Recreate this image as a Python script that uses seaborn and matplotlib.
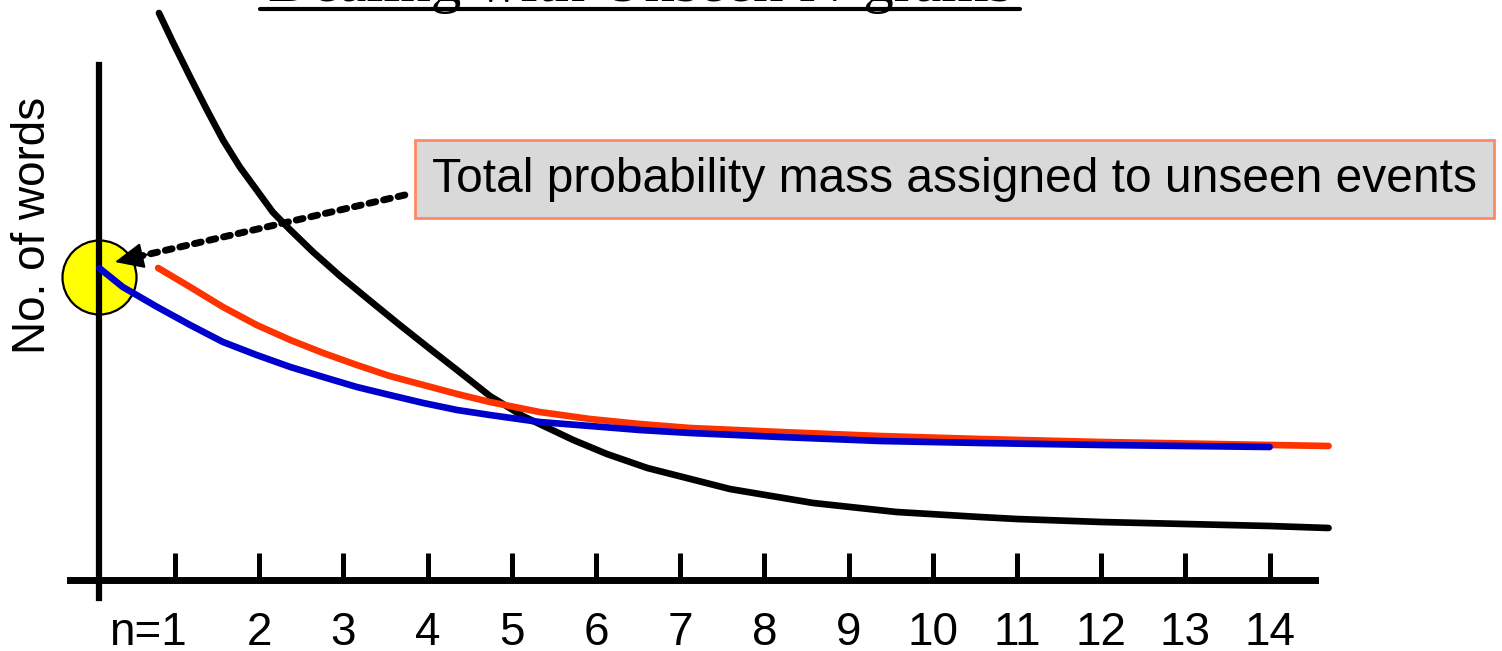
import numpy as np
import pandas as pd
import seaborn as sns
import matplotlib.pyplot as plt
from matplotlib.lines import Line2D
from matplotlib.transforms import ScaledTranslation

# ---------------------------------------------------------
#  data (arbitrary "no. of words" units)
# ---------------------------------------------------------
black_n = [0.81, 0.98, 1.18, 1.38, 1.57, 1.77, 1.97, 2.16, 2.37, 2.64, 2.96, 3.32, 3.67,
           4.03, 4.38, 4.74, 5.13, 5.73, 6.13, 6.61, 7.59, 8.58, 9.57, 10.56, 11, 12, 13,
           14, 14.7]
black_y = [141.75, 134.25, 125.75, 117.5, 110, 103.25, 97.5, 92, 87.5, 82, 76, 69.75,
           63.75, 57.75, 52, 46, 41, 35, 31.5, 28, 22.75, 19.25, 17, 15.75,
           15.25, 14.5, 14, 13.5, 13]

red_n = [0.80, 1.18, 1.57, 1.97, 2.37, 2.76, 3.16, 3.55, 3.95, 4.35, 4.74, 5.33, 5.93,
         6.52, 7.12, 8.19, 9.37, 10.56, 12, 14.7]
red_y = [78, 73.25, 68.25, 63.75, 60, 56.75, 53.75, 51, 48.75, 46.5, 44.5, 42, 40.25,
         39, 38, 37, 36, 35.25, 34.5, 33.5]

blue_n = [0.1, 0.38, 0.79, 1.18, 1.57, 1.97, 2.37, 2.76, 3.16, 3.55, 3.95, 4.35, 4.74,
          5.33, 5.93, 6.52, 7.12, 8.19, 9.37, 10.56, 12, 14]
blue_y = [78, 73.25, 68.25, 63.75, 59.5, 56.25, 53.25, 50.75, 48.25, 46.25, 44.25, 42.5,
          41.25, 39.5, 38.5, 37.5, 36.75, 35.75, 34.75, 34.25, 33.75, 33.25]

ticks = list(range(1, 15))
tick_labels = ["n=1"] + [str(t) for t in ticks[1:]]

unseen_n, unseen_y = 0.1, 75.75       # yellow circle on the y axis
arrow_tip = (0.287, 79.5)
arrow_start = (3.73, 96.25)
note_pos = (10.26, 100.25)
note_text = "Total probability mass assigned to unseen events"
title = "Dealing with Unseen N-grams"

# ---------------------------------------------------------
#  plot
# ---------------------------------------------------------
sns.set_style("white")
plt.rcParams["font.family"] = ["Liberation Sans", "DejaVu Sans"]
plt.rcParams["text.color"] = "black"
plt.rcParams["axes.labelcolor"] = "black"
plt.rcParams["xtick.color"] = "black"

fig = plt.figure(figsize=(15.02, 6.51), dpi=100)
ax = fig.add_axes([0, 0, 1, 1])
ax.set_xlim(-1.078, 16.76)
ax.set_ylim(-17.75, 145)

# yellow circle sits under the axis line
ax.scatter([unseen_n], [unseen_y], s=2840, color="#ffff00", edgecolor="black",
           linewidth=1.6, zorder=2)

curves = [
    (black_n, black_y, "black"),
    (red_n, red_y, "#ff3300"),
    (blue_n, blue_y, "#0000cc"),
]
for xs, ys, col in curves:
    df = pd.DataFrame({"n": xs, "words": ys})
    sns.lineplot(data=df, x="n", y="words", color=col, linewidth=4.8,
                 sort=False, estimator=None, ax=ax, zorder=3)

# axes drawn as crossing lines
for side in ["top", "right"]:
    ax.spines[side].set_visible(False)
ax.spines["left"].set_position(("data", 0.1))
ax.spines["left"].set_bounds(-4.5, 128.75)
ax.spines["left"].set_linewidth(4.5)
ax.spines["bottom"].set_position(("data", 0))
ax.spines["bottom"].set_bounds(-0.247, 14.54)
ax.spines["bottom"].set_linewidth(5)
for sp in ax.spines.values():
    sp.set_color("black")

ax.set_xticks(ticks)
ax.set_xticklabels(tick_labels, fontsize=33)
ax.tick_params(axis="x", bottom=True, direction="in", length=19.5, width=3.6, pad=22,
               color="black", labelcolor="black")
ax.set_yticks([])
ax.set_xlabel("")
# "n=1" sits to the left so that the 1 is under its tick
first = ax.get_xticklabels()[0]
first.set_transform(first.get_transform() + ScaledTranslation(-27 / 100, 0, fig.dpi_scale_trans))

ax.set_ylabel("No. of words", fontsize=33, va="center")
ax.yaxis.set_label_coords(0.022, 0.653)

# callout box
ax.text(*note_pos, note_text, fontsize=34.5, ha="center", va="center", zorder=5,
        bbox=dict(boxstyle="square,pad=0.35", fc="#d9d9d9", ec="#ff8866", lw=2))

# dotted arrow into the circle: dotted shaft + solid head
ax.annotate("", xy=arrow_tip, xytext=arrow_start, zorder=5,
            arrowprops=dict(arrowstyle="-", color="black", lw=5, ls=(0, (1, 1.15)),
                            shrinkA=0, shrinkB=18))
ax.annotate("", xy=arrow_tip, xytext=arrow_start, zorder=5,
            arrowprops=dict(arrowstyle="-|>,head_length=0.6,head_width=0.27",
                            mutation_scale=30, color="black", lw=1.5,
                            shrinkA=190, shrinkB=0))

# slide title, mostly cut off at the top edge
fig.text(640 / 1502, 1 - 1 / 651, title, fontsize=44, family="Liberation Serif",
         ha="center", va="baseline")
fig.add_artist(Line2D([260 / 1502, 1020 / 1502], [1 - 9 / 651] * 2,
                      transform=fig.transFigure, color="black", lw=3))

fig.savefig("out.png", dpi=100)
